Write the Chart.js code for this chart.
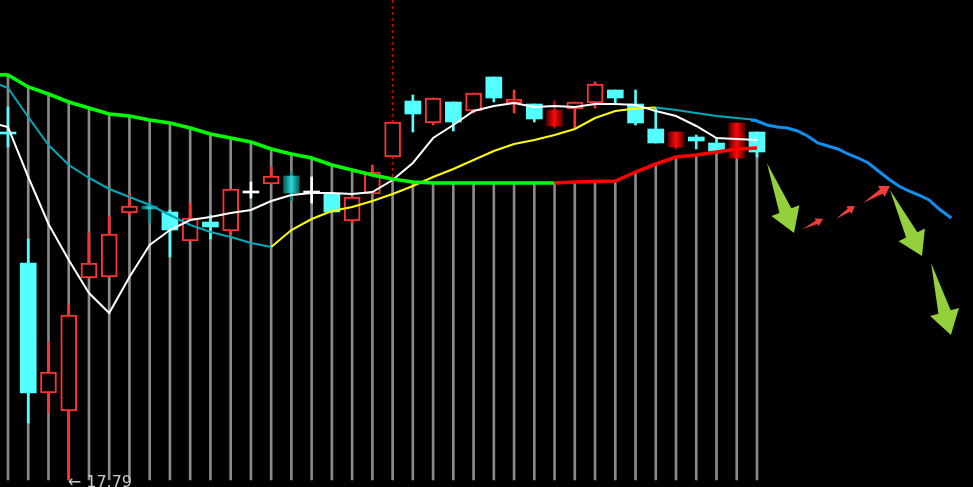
<!DOCTYPE html>
<html>
<head>
<meta charset="utf-8">
<script src="https://cdn.jsdelivr.net/npm/chart.js@4.4.1/dist/chart.umd.min.js"></script>
<style>
  html, body { margin: 0; padding: 0; background: #000; overflow: hidden; }
  canvas { display: block; }
</style>
</head>
<body>
<canvas id="k" width="973" height="487"></canvas>
<script>
// --- datos (velas, una por barra) -------------------------------------------
const open  = [21.26, 19.96, 18.66, 18.48, 19.81, 19.82, 20.46, 20.53, 20.47, 20.18, 20.37, 20.28, 20.66, 20.75, 20.83, 20.66, 20.65, 20.38, 20.65, 21.02, 21.58, 21.36, 21.57, 21.48, 21.82, 21.56, 21.55, 21.33, 21.50, 21.56, 21.69, 21.55, 21.30, 21.12, 21.22, 21.16, 21.01, 21.27];
const high  = [21.52, 20.20, 19.17, 19.54, 20.26, 20.43, 20.65, 20.57, 20.49, 20.56, 20.44, 20.70, 20.77, 20.92, 20.87, 20.82, 20.65, 20.62, 20.94, 21.37, 21.64, 21.61, 21.57, 21.66, 21.82, 21.69, 21.55, 21.58, 21.57, 21.77, 21.69, 21.69, 21.51, 21.27, 21.24, 21.21, 21.36, 21.27];
const low   = [21.12, 18.36, 18.46, 17.79, 19.81, 19.82, 20.44, 20.36, 20.02, 20.18, 20.20, 20.22, 20.61, 20.75, 20.58, 20.56, 20.47, 20.36, 20.65, 21.02, 21.27, 21.34, 21.28, 21.46, 21.57, 21.46, 21.37, 21.31, 21.31, 21.51, 21.55, 21.34, 21.16, 21.10, 21.10, 21.08, 21.01, 21.02];
const close = [21.25, 18.66, 18.87, 19.44, 19.96, 20.25, 20.53, 20.50, 20.29, 20.41, 20.32, 20.70, 20.66, 20.83, 20.66, 20.66, 20.47, 20.62, 20.87, 21.37, 21.45, 21.61, 21.37, 21.66, 21.61, 21.60, 21.40, 21.49, 21.57, 21.75, 21.61, 21.36, 21.16, 21.27, 21.18, 21.08, 21.36, 21.07];
// barras resaltadas (relleno degradado)
const marcadas = [7, 14, 27, 33, 36];

// medias móviles: empiezan una barra antes de la primera vela
const mediaInicio = -1;
const ma5  = [21.37, 21.32, 20.82, 20.35, 19.99, 19.66, 19.46, 19.82, 20.14, 20.29, 20.39, 20.42, 20.46, 20.49, 20.58, 20.64, 20.66, 20.66, 20.65, 20.67, 20.79, 20.96, 21.21, 21.34, 21.48, 21.53, 21.56, 21.52, 21.53, 21.52, 21.55, 21.55, 21.54, 21.48, 21.43, 21.33, 21.21, 21.20, 21.19];
const ma10 = [21.79, 21.71, 21.42, 21.14, 20.94, 20.81, 20.70, 20.62, 20.54, 20.44, 20.34, 20.27, 20.22, 20.16, 20.12, 20.29, 20.40, 20.48, 20.52, 20.58, 20.65, 20.73, 20.82, 20.90, 20.99, 21.08, 21.15, 21.19, 21.24, 21.30, 21.41, 21.48, 21.505, 21.515, 21.49, 21.46, 21.43, 21.41, 21.39];
const ma60 = [21.845, 21.84, 21.72, 21.65, 21.57, 21.51, 21.45, 21.43, 21.39, 21.36, 21.31, 21.25, 21.21, 21.17, 21.10, 21.05, 21.01, 20.94, 20.89, 20.84, 20.80, 20.77, 20.76, 20.76, 20.76, 20.76, 20.76, 20.76, 20.76, 20.77, 20.775, 20.78, 20.87, 20.95, 21.02, 21.04, 21.07, 21.10, 21.11];

// proyección (línea azul a la derecha)
const proyIdx = [36.7, 37, 37.5, 38, 38.5, 39, 39.5, 40, 40.5, 41, 41.5, 42, 42.5, 43, 43.5, 44, 44.5, 45, 45.5, 46, 46.6];
const proyVal = [21.39, 21.38, 21.34, 21.32, 21.31, 21.28, 21.23, 21.16, 21.13, 21.10, 21.05, 21.01, 20.96, 20.88, 20.80, 20.73, 20.68, 20.64, 20.59, 20.50, 20.41];

// línea punteada roja vertical
const marcaVertical = 19;

// flechas: [barra cola, precio cola, barra punta, precio punta]
const flechasVerdes = [[37.49, 20.96, 38.83, 20.26], [43.57, 20.69, 45.15, 20.03], [45.60, 19.96, 46.58, 19.24]];
const flechasRojas  = [[39.27, 20.30, 40.26, 20.40], [40.90, 20.40, 41.84, 20.53], [42.24, 20.56, 43.57, 20.73]];

// --- ejes -------------------------------------------------------------------
const X_MIN = -0.395, X_MAX = 47.671;
const Y_MIN = 17.72, Y_MAX = 22.59;

const CIAN = '#54ffff', ROJO = '#ff3232', CIAN_MA = '#00aabb', AMARILLO = '#ffff00';
const VERDE = '#00ff00', ROJO_MA = '#ff0000';

const base = Math.min(...low);
const sube = (i) => close[i] > open[i];
const baja = (i) => close[i] < open[i];
const esMarcada = (i) => marcadas.includes(i);

function degradado(c, i, borde, centro) {
  const sx = c.chart.scales.x;
  if (!sx) return centro;
  const x = sx.getPixelForValue(i);
  const g = c.chart.ctx.createLinearGradient(x - 8, 0, x + 8, 0);
  g.addColorStop(0, borde);
  g.addColorStop(0.5, centro);
  g.addColorStop(1, borde);
  return g;
}

const serie = (arr) => arr.map((v, k) => ({ x: k + mediaInicio, y: v }));
const subeRojo = (s) => (s.p1.parsed.y > s.p0.parsed.y ? ROJO_MA : VERDE);
const subeAmarillo = (s) => (s.p1.parsed.y > s.p0.parsed.y ? AMARILLO : CIAN_MA);

const datasets = [
  // líneas grises desde la media gruesa hasta el mínimo
  {
    type: 'bar', order: 20, grouped: false, barThickness: 2,
    data: open.map((_, i) => ({ x: i, y: [base, ma60[i - mediaInicio]] })),
    backgroundColor: '#8a8a8a', borderWidth: 0,
  },
  {
    type: 'line', order: 19,
    data: [{ x: marcaVertical, y: Y_MAX }, { x: marcaVertical, y: ma60[marcaVertical - mediaInicio] }],
    borderColor: '#d00000', borderWidth: 1.5, borderDash: [3, 3], pointRadius: 0,
  },
  // mechas
  {
    type: 'bar', order: 15, grouped: false, barThickness: 2, minBarLength: 1,
    data: open.map((_, i) => ({ x: i, y: [low[i], high[i]] })),
    backgroundColor: (c) => {
      const i = c.dataIndex;
      if (sube(i)) return esMarcada(i) ? '#c00000' : ROJO;
      if (baja(i)) return esMarcada(i) ? '#009898' : CIAN;
      return '#ffffff';
    },
    borderWidth: 0,
  },
  // cuerpos
  {
    type: 'bar', order: 14, grouped: false, barThickness: 16, minBarLength: 2,
    data: open.map((_, i) => ({ x: i, y: [Math.min(open[i], close[i]), Math.max(open[i], close[i])] })),
    backgroundColor: (c) => {
      const i = c.dataIndex;
      if (esMarcada(i)) return sube(i) ? degradado(c, i, '#5a0000', '#ff0808') : degradado(c, i, '#005c5c', '#30d8d8');
      if (sube(i)) return '#000000';
      if (baja(i)) return CIAN;
      return '#ffffff';
    },
    borderColor: ROJO,
    borderWidth: (c) => (sube(c.dataIndex) && !esMarcada(c.dataIndex) ? 2 : 0),
    borderSkipped: false,
  },
  {
    type: 'line', order: 5, data: serie(ma10), borderWidth: 2, pointRadius: 0,
    borderColor: CIAN_MA, segment: { borderColor: subeAmarillo },
  },
  {
    type: 'line', order: 4, data: serie(ma5), borderWidth: 2, pointRadius: 0, borderColor: '#ffffff',
  },
  {
    type: 'line', order: 3, data: serie(ma60), borderWidth: 3.5, pointRadius: 0,
    borderColor: VERDE, segment: { borderColor: subeRojo },
  },
  {
    type: 'line', order: 2, data: proyIdx.map((x, k) => ({ x, y: proyVal[k] })),
    borderWidth: 3, pointRadius: 0, borderColor: '#1090f0',
  },
];

// flechas y etiqueta del mínimo
function flecha(ctx, x0, y0, x1, y1, color) {
  const dx = x1 - x0, dy = y1 - y0, L = Math.hypot(dx, dy);
  const ux = dx / L, uy = dy / L, nx = -uy, ny = ux;
  const h = L * 0.32, w = L * 0.2, s = L * 0.085;
  const bx = x1 - ux * h, by = y1 - uy * h;
  ctx.beginPath();
  ctx.moveTo(x0, y0);
  ctx.lineTo(bx + nx * s, by + ny * s);
  ctx.lineTo(bx + nx * w, by + ny * w);
  ctx.lineTo(x1, y1);
  ctx.lineTo(bx - nx * w, by - ny * w);
  ctx.lineTo(bx - nx * s, by - ny * s);
  ctx.closePath();
  ctx.fillStyle = color;
  ctx.fill();
}

const extras = {
  id: 'extras',
  afterDatasetsDraw(chart) {
    const { ctx } = chart;
    const sx = chart.scales.x, sy = chart.scales.y;
    ctx.save();
    const dibujar = (lista, color) => lista.forEach(([a, b, c, d]) =>
      flecha(ctx, sx.getPixelForValue(a), sy.getPixelForValue(b), sx.getPixelForValue(c), sy.getPixelForValue(d), color));
    dibujar(flechasVerdes, '#94cf3c');
    dibujar(flechasRojas, '#f03c3c');

    const iMin = low.indexOf(base);
    ctx.font = '16px "DejaVu Sans"';
    ctx.fillStyle = '#c8c8c8';
    ctx.textBaseline = 'alphabetic';
    ctx.fillText('\u2190 ' + base.toFixed(2), sx.getPixelForValue(iMin) - 1, sy.getPixelForValue(base) + 7);
    ctx.restore();
  },
};

new Chart(document.getElementById('k'), {
  type: 'bar',
  data: { datasets },
  plugins: [extras],
  options: {
    responsive: false, animation: false,
    layout: { padding: 0 },
    plugins: { legend: { display: false }, tooltip: { enabled: false } },
    elements: { line: { tension: 0 } },
    scales: {
      x: { type: 'linear', min: X_MIN, max: X_MAX, display: false, offset: false },
      y: { min: Y_MIN, max: Y_MAX, display: false },
    },
  },
});
</script>
</body>
</html>
